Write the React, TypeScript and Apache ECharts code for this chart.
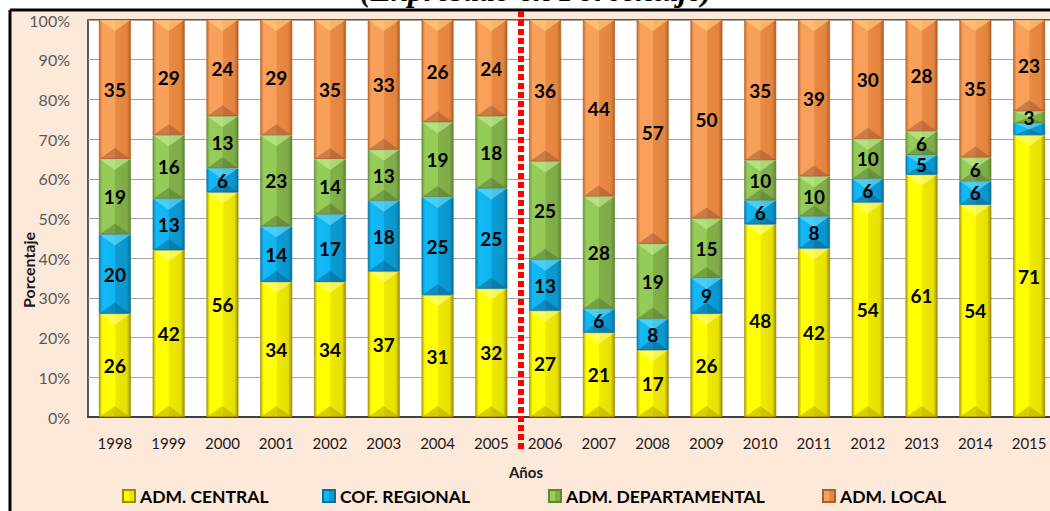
import React, { useEffect, useRef } from "react";
import * as echarts from "echarts";

const years = ["1998", "1999", "2000", "2001", "2002", "2003", "2004", "2005", "2006", "2007", "2008", "2009", "2010", "2011", "2012", "2013", "2014", "2015"];
const central = [26, 42, 56, 34, 34, 37, 31, 32, 27, 21, 17, 26, 48, 42, 54, 61, 54, 71];
const regional = [20, 13, 6, 14, 17, 18, 25, 25, 13, 6, 8, 9, 6, 8, 6, 5, 6, 3];
const departamental = [19, 16, 13, 23, 14, 13, 19, 18, 25, 28, 19, 15, 10, 10, 10, 6, 6, 3];
const local = [35, 29, 24, 29, 35, 33, 26, 24, 36, 44, 57, 50, 35, 39, 30, 28, 35, 23];
const yTicks = [0, 10, 20, 30, 40, 50, 60, 70, 80, 90, 100];
const hiddenLabels: Record<string, number[]> = { "COF. REGIONAL": [17] };

const seriesDefs = [
  { name: "ADM. CENTRAL", values: central, stops: ["#B9A200", "#FFFF00", "#FFFF00", "#EEEA00", "#E5E000", "#A08C00"], top: "rgba(255,255,150,0.55)", bottom: "rgba(170,150,0,0.45)" },
  { name: "COF. REGIONAL", values: regional, stops: ["#0A7FB0", "#12B9F5", "#10B4F0", "#0A9DD4", "#0996CC", "#086F98"], top: "rgba(110,225,255,0.6)", bottom: "rgba(10,80,120,0.4)" },
  { name: "ADM. DEPARTAMENTAL", values: departamental, stops: ["#6E9A3C", "#95CC5A", "#93CA58", "#82B14A", "#7EAC47", "#5E8530"], top: "rgba(200,240,150,0.6)", bottom: "rgba(70,100,40,0.4)" },
  { name: "ADM. LOCAL", values: local, stops: ["#C0692C", "#F9A15B", "#F8A05A", "#E88A43", "#E3853F", "#B15E25"], top: "rgba(255,205,130,0.65)", bottom: "rgba(140,70,40,0.4)" },
];

const totals = years.map((_, i) => seriesDefs.reduce((s, d) => s + d.values[i], 0));

function grad(stops: string[]) {
  return new echarts.graphic.LinearGradient(0, 0, 1, 0, [
    { offset: 0, color: stops[0] },
    { offset: 0.1, color: stops[1] },
    { offset: 0.5, color: stops[2] },
    { offset: 0.52, color: stops[3] },
    { offset: 0.88, color: stops[4] },
    { offset: 1, color: stops[5] },
  ]);
}

const FONT = "Lato";
const BAR_W = 32;

export default function App() {
  const ref = useRef<HTMLDivElement>(null);
  useEffect(() => {
    if (!ref.current) return;
    const chart = echarts.init(ref.current, undefined, { renderer: "svg" });
    const legendX = [117, 317, 543, 817];

    const cum = years.map(() => 0);
    const layers = seriesDefs.map((d) =>
      d.values.map((v, i) => {
        const h = (v / totals[i]) * 100;
        const base = cum[i];
        cum[i] += h;
        const show = !(hiddenLabels[d.name] || []).includes(i);
        return [i, base, base + h, v, show ? 1 : 0];
      })
    );

    const barSeries = seriesDefs.map((d) => ({
      name: d.name,
      type: "bar",
      stack: "total",
      barWidth: BAR_W,
      z: 2,
      itemStyle: { color: grad(d.stops), borderColor: d.stops[5], borderWidth: 0.6 },
      data: d.values.map((v, i) => (v / totals[i]) * 100),
    }));

    const bevelSeries = seriesDefs.map((d, k) => ({
      name: "bevel-" + k,
      type: "custom",
      z: 3,
      silent: true,
      data: layers[k],
      encode: { x: 0, y: [1, 2] },
      renderItem: (_params: any, api: any) => {
        const i = api.value(0);
        const pb = api.coord([i, api.value(1)]);
        const pt = api.coord([i, api.value(2)]);
        const cx = pb[0];
        const hw = BAR_W / 2;
        const yb = pb[1];
        const yt = pt[1];
        const h = yb - yt;
        const dd = Math.min(11, h / 2);
        const children: any[] = [
          { type: "polygon", shape: { points: [[cx - hw + 0.5, yt], [cx + hw - 0.5, yt], [cx, yt + dd]] }, style: { fill: d.top } },
          { type: "polygon", shape: { points: [[cx - hw + 0.5, yb], [cx + hw - 0.5, yb], [cx, yb - dd]] }, style: { fill: d.bottom } },
        ];
        if (api.value(4)) {
          children.push({
            type: "text",
            x: cx,
            y: (yt + yb) / 2,
            style: {
              text: String(api.value(3)),
              fontFamily: FONT,
              fontWeight: "bold",
              fontSize: 19,
              fill: "#000000",
              align: "center",
              verticalAlign: "middle",
            },
          });
        }
        return { type: "group", children };
      },
    }));

    const option: any = {
      animation: false,
      backgroundColor: "#FFFFFF",
      textStyle: { fontFamily: FONT },
      grid: {
        left: 88,
        top: 20,
        width: 968,
        height: 397,
        show: true,
        backgroundColor: "#FFFFFF",
        borderColor: "#262626",
        borderWidth: 1.5,
        containLabel: false,
      },
      legend: seriesDefs.map((d, i) => ({
        data: [d.name],
        left: legendX[i],
        top: 482,
        itemWidth: 12,
        itemHeight: 12,
        itemGap: 2,
        icon: "rect",
        textStyle: { fontFamily: FONT, fontWeight: "bold", fontSize: 17.5, color: "#000000" },
        selectedMode: false,
      })),
      xAxis: {
        type: "category",
        data: years,
        axisTick: { show: false },
        axisLine: { show: true, lineStyle: { color: "#404040", width: 2 } },
        axisLabel: { fontFamily: FONT, fontSize: 15, color: "#1A1A1A", margin: 18 },
      },
      yAxis: {
        type: "value",
        min: 0,
        max: 100,
        interval: 10,
        axisLine: { show: false },
        axisTick: { show: false },
        splitLine: { lineStyle: { color: "#A6A6A6", width: 1 } },
        axisLabel: {
          fontFamily: FONT,
          fontSize: 16,
          color: "#595959",
          margin: 18,
          formatter: (v: number) => (yTicks.includes(v) ? v + "%" : ""),
        },
      },
      series: [...barSeries, ...bevelSeries],
      graphic: [
        { type: "rect", z: -10, shape: { x: 12, y: 12, width: 1100, height: 520 }, style: { fill: "#FDE9D9" } },
        { type: "line", z: 10, shape: { x1: 10, y1: 10, x2: 1100, y2: 10 }, style: { stroke: "#000000", lineWidth: 3 } },
        { type: "line", z: 10, shape: { x1: 10, y1: 10, x2: 10, y2: 520 }, style: { stroke: "#000000", lineWidth: 3 } },
        {
          type: "text",
          z: 10,
          x: 536,
          y: 6,
          style: {
            text: "(Expresado en Porcentaje)",
            fontFamily: "Liberation Serif",
            fontStyle: "italic",
            fontWeight: "bold",
            fontSize: 32,
            fill: "#000000",
            align: "center",
            verticalAlign: "bottom",
          },
        },
        {
          type: "text",
          z: 10,
          x: 28,
          y: 270,
          rotation: Math.PI / 2,
          style: {
            text: "Porcentaje",
            fontFamily: FONT,
            fontWeight: "bold",
            fontSize: 16,
            fill: "#1A1A1A",
            align: "center",
            verticalAlign: "middle",
          },
        },
        {
          type: "text",
          z: 10,
          x: 526,
          y: 472,
          style: {
            text: "Años",
            fontFamily: FONT,
            fontWeight: "bold",
            fontSize: 15,
            fill: "#1A1A1A",
            align: "center",
            verticalAlign: "middle",
          },
        },
        {
          type: "line",
          z: 20,
          shape: { x1: 521, y1: 11, x2: 521, y2: 450 },
          style: { stroke: "#FF0000", lineWidth: 6, lineDash: [6, 3] },
        },
      ],
    };
    chart.setOption(option);
    return () => chart.dispose();
  }, []);
  return (
    <div style={{ position: "fixed", left: 0, top: 0, width: 1050, height: 511, overflow: "hidden", background: "#fff" }}>
      <div ref={ref} style={{ width: 1080, height: 511 }} />
    </div>
  );
}
